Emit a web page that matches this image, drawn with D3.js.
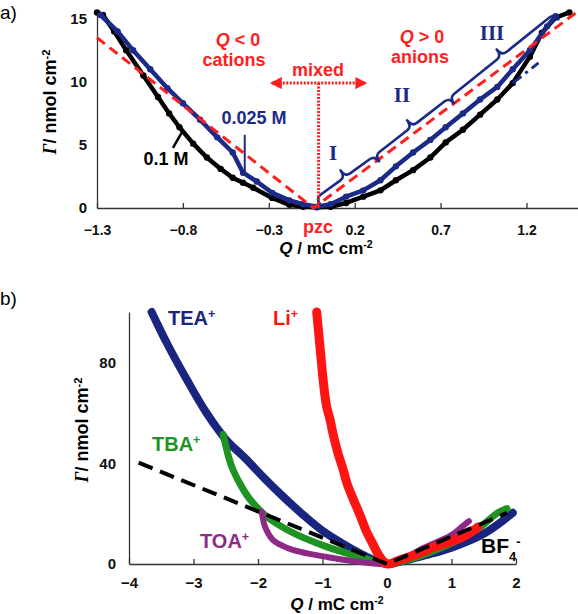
<!DOCTYPE html>
<html><head><meta charset="utf-8">
<script src="https://cdn.jsdelivr.net/npm/d3@7"></script>
<style>body{margin:0;background:#fff} svg{display:block}</style>
</head><body>
<svg id="c" width="578" height="614"></svg>
<script>
// ---------- Panel a data ----------
const aXTicks = [-1.3, -0.8, -0.3, 0.2, 0.7, 1.2];
const aYTicks = [0, 5, 10, 15];
const blue025Q = [-1.28,-1.18,-1.09,-0.99,-0.89,-0.80,-0.70,-0.60,-0.51,-0.45,-0.37,-0.28,-0.18,-0.10,-0.02,0.06,0.15,0.25,0.35,0.44,0.54,0.64,0.73,0.83,0.93,1.03,1.12,1.22,1.32,1.37];
const blue025G = [15.3,14.0,12.5,11.0,9.5,8.3,7.0,5.6,4.4,2.8,2.1,1.2,0.6,0.3,0.1,0.3,0.9,1.4,2.2,3.3,4.4,5.4,6.4,7.5,8.6,9.6,11.0,12.5,14.4,15.2];
const black01Q = [-1.30,-1.265,-1.2,-1.13,-1.03,-0.945,-0.88,-0.82,-0.74,-0.66,-0.58,-0.51,-0.45,-0.39,-0.28,-0.18,-0.10,-0.02,0.06,0.15,0.25,0.35,0.44,0.54,0.64,0.73,0.83,0.93,1.03,1.12,1.22,1.29,1.37,1.45];
const black01G = [15.5,15.3,14.0,12.5,10.5,8.8,7.5,6.4,5.1,4.0,3.1,2.4,2.0,1.6,0.8,0.25,0.1,0.05,0.1,0.4,0.9,1.4,2.2,3.0,4.0,5.2,6.2,7.4,8.6,9.9,12.0,13.9,15.1,15.5];
const fitVQ = [-1.3, -0.04, 1.5];
const fitVG = [13.5, 0, 15.6];
const fitBlueQ = [1.12, 1.27];
const fitBlueG = [9.9, 11.5];
const braceQ = [0.0, 0.345, 0.78, 1.39];
const braceG = [0.25, 3.65, 8.25, 14.9];
const braceLabels = ["I", "II", "III"];

// ---------- Panel b data ----------
const bXTicks = [-4, -3, -2, -1, 0, 1, 2];
const bYTicks = [0, 40, 80];
const teaQ = [-3.65,-3.4,-3.1,-2.8,-2.5,-2.2,-1.9,-1.6,-1.3,-1.0,-0.7,-0.4,-0.2,0,0.3,0.6,1.0,1.5,1.95];
const teaG = [100,87,73,60,49.5,42,34,26.5,19.5,13.2,8.3,4,1.5,0,1.5,3.5,6.5,12,20.3];
const tbaQ = [-2.54,-2.45,-2.39,-2.25,-2.12,-1.86,-1.46,-0.93,-0.42,-0.16,0,0.3,0.7,1.1,1.44,1.70,1.86];
const tbaG = [51.4,42,37.5,30.5,25.5,18.7,12.4,6.8,2.8,0.8,0,1.5,5,9.5,14.5,20,22];
const toaQ = [-1.94,-1.89,-1.77,-1.6,-1.46,-1.2,-0.93,-0.42,0,0.25,0.5,0.8,1.0,1.15,1.27];
const toaG = [20.7,14.7,9.6,7,5.6,4,2.8,0.8,0,2,5.5,9,11.5,14.5,17];
const liQ = [-1.09,-1.06,-1.02,-0.99,-0.94,-0.88,-0.84,-0.76,-0.68,-0.62,-0.52,-0.42,-0.32,-0.22,-0.14,-0.07,0,0.2,0.5,0.71,1.0,1.24,1.41];
const liG = [100,92,81,73,63,57,52,44,37.5,32,25.5,19.5,13,8,4,1.5,0,1.6,4.2,6.5,9,11.6,14.7];
const bf4Q = [-3.85, 0, 1.86];
const bf4G = [40.2, 0, 20.3];

const svg = d3.select("#c");
const NAVY = "#1c2a87", RED = "#ff1e1e";
const SANS = "'Liberation Sans', Arial, sans-serif";
const SERIF = "'Liberation Serif', 'Times New Roman', serif";

function zip(xs, ys){ return xs.map((x,i)=>[x, ys[i]]); }
function drawLine(g, pts, sx, sy, color, w, opts={}){
  const p = g.append("path").datum(pts)
    .attr("d", d3.line().x(d=>sx(d[0])).y(d=>sy(d[1])).curve(opts.curve||d3.curveLinear))
    .attr("fill","none").attr("stroke",color).attr("stroke-width",w)
    .attr("stroke-linejoin","round").attr("stroke-linecap", opts.cap||"round");
  if (opts.dash) p.attr("stroke-dasharray", opts.dash);
  if (opts.r) g.selectAll(null).data(pts).join("circle")
    .attr("cx",d=>sx(d[0])).attr("cy",d=>sy(d[1])).attr("r",opts.r).attr("fill",color);
  return p;
}
function styleAxis(g, size){
  g.selectAll("path,line").attr("stroke","#333").attr("stroke-width",1.3);
  g.selectAll("text").style("font-size",size+"px").style("font-weight","bold").style("font-family",SANS).attr("fill","#111");
}

// ================= Panel a =================
const xa = d3.scaleLinear().domain([-1.3, 1.5]).range([97, 578]);
const ya = d3.scaleLinear().domain([0, 15.3]).range([208, 15]);
const ga = svg.append("g");

ga.append("g").attr("transform","translate(0,208)")
  .call(d3.axisBottom(xa).tickValues(aXTicks).tickSize(-5).tickSizeOuter(0).tickPadding(17).tickFormat(d3.format(".1f")))
  .call(g=>styleAxis(g,14));
ga.append("g").attr("transform","translate(97,0)")
  .call(d3.axisLeft(ya).tickValues(aYTicks).tickSize(0).tickPadding(10).tickFormat(d3.format("d")))
  .call(g=>styleAxis(g,15));

// curves
drawLine(ga, zip(black01Q, black01G), xa, ya, "#000", 4.5, {r:3.2});
drawLine(ga, zip(blue025Q, blue025G), xa, ya, NAVY, 4.5, {r:3.2});
drawLine(ga, zip(fitVQ, fitVG), xa, ya, RED, 3, {dash:"10,6", cap:"butt"});
drawLine(ga, zip(fitBlueQ, fitBlueG), xa, ya, NAVY, 3, {dash:"11,5,3,5", cap:"butt"});

// braces (ends on the chord, body offset h toward upper-left, tip offset h+t)
function bracePath(ax,ay,bx,by,h,t,r){
  const L = Math.hypot(bx-ax,by-ay), ux=(bx-ax)/L, uy=(by-ay)/L;
  const nx = uy, ny = -ux;
  const P=(x,y)=>`${x.toFixed(1)},${y.toFixed(1)}`;
  const mx=(ax+bx)/2, my=(ay+by)/2;
  return `M${P(ax,ay)}Q${P(ax+nx*h,ay+ny*h)} ${P(ax+nx*h+ux*r,ay+ny*h+uy*r)}`+
    `L${P(mx-ux*r+nx*h,my-uy*r+ny*h)}Q${P(mx+nx*h,my+ny*h)} ${P(mx+nx*(h+t),my+ny*(h+t))}`+
    `Q${P(mx+nx*h,my+ny*h)} ${P(mx+ux*r+nx*h,my+uy*r+ny*h)}`+
    `L${P(bx-ux*r+nx*h,by-uy*r+ny*h)}Q${P(bx+nx*h,by+ny*h)} ${P(bx,by)}`;
}
for (let i=0;i<braceQ.length-1;i++){
  ga.append("path").attr("d", bracePath(xa(braceQ[i]),ya(braceG[i]),xa(braceQ[i+1]),ya(braceG[i+1]),8,8,6))
    .attr("fill","none").attr("stroke",NAVY).attr("stroke-width",2.6).attr("stroke-linejoin","round");
}
const braceLabelPos = [[333,160],[402,102],[492,40]];
braceLabels.forEach((t,i)=>ga.append("text").attr("x",braceLabelPos[i][0]).attr("y",braceLabelPos[i][1])
  .attr("text-anchor","middle").style("font-family",SERIF).style("font-weight","bold")
  .style("font-size","21px").attr("fill",NAVY).text(t));

// mixed arrow + pzc
const defs = svg.append("defs");
defs.append("marker").attr("id","ah").attr("viewBox","0 0 10 10").attr("refX",8).attr("refY",5)
  .attr("markerWidth",4).attr("markerHeight",4).attr("orient","auto-start-reverse")
  .append("path").attr("d","M0,0L10,5L0,10z").attr("fill",RED);
const mixG = 9.9, mixL = -0.28, mixR = 0.26, pzcQ = -0.01;
ga.append("line").attr("x1",xa(mixL)).attr("x2",xa(mixR)).attr("y1",ya(mixG)).attr("y2",ya(mixG))
  .attr("stroke",RED).attr("stroke-width",3).attr("stroke-dasharray","2,1.5")
  .attr("marker-start","url(#ah)").attr("marker-end","url(#ah)");
ga.append("line").attr("x1",xa(pzcQ)).attr("x2",xa(pzcQ)).attr("y1",ya(mixG)).attr("y2",ya(0))
  .attr("stroke",RED).attr("stroke-width",3).attr("stroke-dasharray","2,1.5");

// pointers
ga.append("line").attr("x1",xa(-0.44)).attr("x2",xa(-0.44)).attr("y1",ya(5.8)).attr("y2",ya(2.6)).attr("stroke",NAVY).attr("stroke-width",2);
ga.append("line").attr("x1",xa(-0.858)).attr("x2",xa(-0.806)).attr("y1",ya(4.76)).attr("y2",ya(6.0)).attr("stroke","#000").attr("stroke-width",2.5);

// texts
function txt(x,y,parts,opt={}){
  const size = opt.size||18;
  const t = svg.append("text").attr("x",x).attr("y",y)
    .style("font-size",size+"px").style("font-family",opt.family||SANS).style("font-weight",opt.weight||"bold")
    .attr("fill",opt.fill||"#000").attr("text-anchor",opt.anchor||"start");
  if (opt.transform) t.attr("transform",opt.transform);
  parts.forEach(p=>{
    const s = t.append("tspan").text(p.t);
    if (p.i) s.style("font-style","italic");
    if (p.f) s.style("font-family",p.f);
    if (p.sup) s.attr("baseline-shift","super").style("font-size",(size*0.62)+"px");
    if (p.sub) s.attr("baseline-shift","sub").style("font-size",(size*0.62)+"px");
  });
  return t;
}
txt(0,19,[{t:"a)"}],{size:19,weight:"normal"});
txt(238,46,[{t:"Q",i:1},{t:" < 0"}],{fill:RED,anchor:"middle",size:18});
txt(234,66,[{t:"cations"}],{fill:RED,anchor:"middle",size:18});
txt(318,76,[{t:"mixed"}],{fill:RED,anchor:"middle",size:18});
txt(422,43,[{t:"Q",i:1},{t:" > 0"}],{fill:RED,anchor:"middle",size:18});
txt(420,63,[{t:"anions"}],{fill:RED,anchor:"middle",size:18});
txt(318,233,[{t:"pzc"}],{fill:RED,anchor:"middle",size:18});
txt(254,124,[{t:"0.025 M"}],{fill:NAVY,anchor:"middle",size:18});
txt(166,165,[{t:"0.1 M"}],{fill:"#000",anchor:"middle",size:18});
txt(326,254,[{t:"Q",i:1},{t:" / mC cm"},{t:"-2",sup:1}],{anchor:"middle",size:17});
txt(56,102,[{t:"Γ",i:1,f:SERIF},{t:"/ nmol cm"},{t:"-2",sup:1}],{anchor:"middle",size:18,transform:"rotate(-90,56,102)"});

// ================= Panel b =================
const xb = d3.scaleLinear().domain([-4, 2]).range([129, 516]);
const yb = d3.scaleLinear().domain([0, 100]).range([564, 312]);
const gb = svg.append("g");
gb.append("g").attr("transform","translate(0,564)")
  .call(d3.axisBottom(xb).tickValues(bXTicks).tickSize(-5).tickSizeOuter(0).tickPadding(13).tickFormat(d3.format("d")))
  .call(g=>styleAxis(g,15));
gb.append("g").attr("transform","translate(129,0)")
  .call(d3.axisLeft(yb).tickValues(bYTicks).tickSize(0).tickPadding(13).tickFormat(d3.format("d")))
  .call(g=>styleAxis(g,15));

const cr = d3.curveCatmullRom.alpha(0.5);
drawLine(gb, zip(teaQ, teaG), xb, yb, "#1a2580", 8, {curve:cr});
drawLine(gb, zip(tbaQ, tbaG), xb, yb, "#1f9423", 7, {curve:cr});
drawLine(gb, zip(toaQ, toaG), xb, yb, "#8e2a86", 6, {curve:cr});
drawLine(gb, zip(liQ, liG), xb, yb, "#ff1414", 9, {curve:cr});
drawLine(gb, zip(bf4Q, bf4G), xb, yb, "#000", 4, {dash:"15,8", cap:"butt"});

txt(0,305,[{t:"b)"}],{size:19,weight:"normal"});
txt(168,325,[{t:"TEA"},{t:"+",sup:1}],{fill:"#1a2580",size:20});
txt(273,325,[{t:"Li"},{t:"+",sup:1}],{fill:"#ff1414",size:20});
txt(152,451,[{t:"TBA"},{t:"+",sup:1}],{fill:"#1f9423",size:20});
txt(200,548,[{t:"TOA"},{t:"+",sup:1}],{fill:"#8e2a86",size:20});
txt(481,553,[{t:"BF"},{t:"4",sub:1},{t:"-",sup:1}],{fill:"#000",size:21});
txt(337,610,[{t:"Q",i:1},{t:"  / mC cm"},{t:"-2",sup:1}],{anchor:"middle",size:17});
txt(88,430,[{t:"Γ",i:1,f:SERIF},{t:"/ nmol cm"},{t:"-2",sup:1}],{anchor:"middle",size:18,transform:"rotate(-90,88,430)"});
</script>
</body></html>
